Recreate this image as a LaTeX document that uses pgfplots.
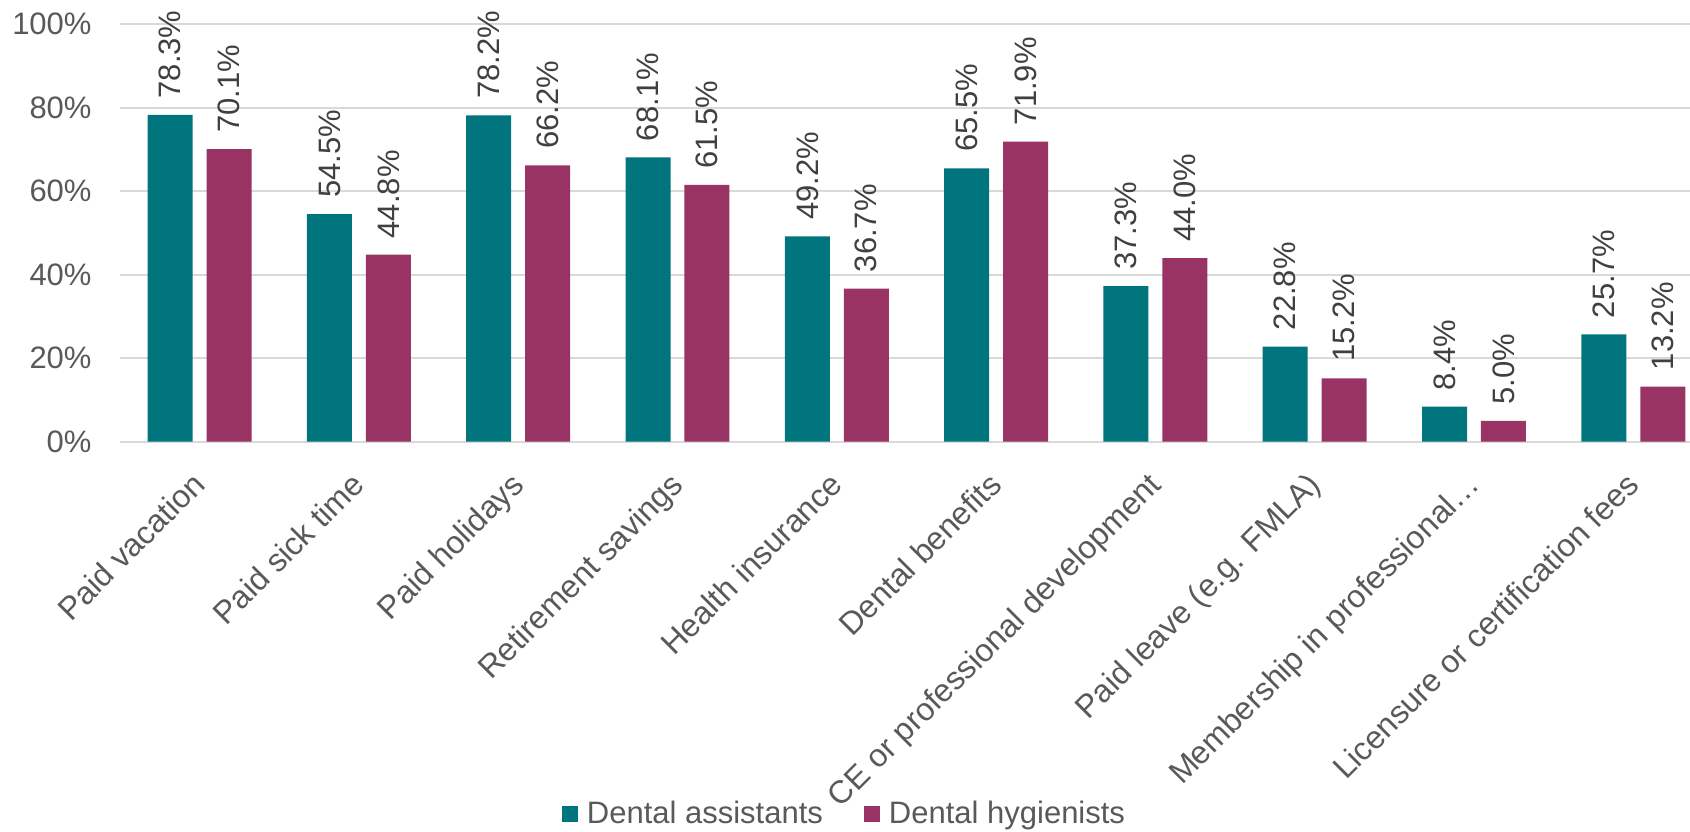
\documentclass[border=0pt]{standalone}
\usepackage{pgfplots}
\pgfplotsset{compat=1.18}
\usepackage{fontspec}
\setmainfont{Liberation Sans}
\definecolor{assist}{HTML}{00757D}
\definecolor{hyg}{HTML}{983363}
\definecolor{txt}{HTML}{595959}
\definecolor{lbl}{HTML}{404040}
\definecolor{gridc}{HTML}{D9D9D9}
\begin{document}
\begin{tikzpicture}
\begin{axis}[
    scale only axis,
    width=785pt, height=208.7pt,
    xmin=-0.5, xmax=9.356,
    ymin=0, ymax=100,
    ybar, bar width=0.2825,
    axis line style={draw=none},
    major tick length=0pt,
    xmajorgrids=false,
    ymajorgrids, grid style={draw=gridc, line width=0.8pt},
    ytick={0,20,40,60,80,100},
    yticklabels={0\%,20\%,40\%,60\%,80\%,100\%},
    yticklabel style={font=\fontsize{15.5}{18}\selectfont, text=txt, inner sep=0pt, xshift=-14pt},
    xtick={0,...,9},
    xticklabels={Paid vacation, Paid sick time, Paid holidays, Retirement savings,
      Health insurance, Dental benefits, CE or professional development,
      Paid leave (e.g. FMLA), Membership in professional…, Licensure or certification fees},
    xticklabel style={font=\fontsize{16}{18}\selectfont, text=txt, inner sep=0pt,
      yshift=-14pt, xshift=-4.5pt, rotate=45, anchor=north east},
    point meta=explicit symbolic,
    nodes near coords,
    every node near coord/.append style={font=\fontsize{15.5}{18}\selectfont, text=lbl,
      rotate=90, anchor=west, inner xsep=8pt, inner ysep=0pt},
    legend columns=2,
    legend style={draw=none, fill=none, at={(0.4637,-0.892)}, anchor=center,
      font=\fontsize{15.5}{18}\selectfont, text=txt,
      /tikz/every odd column/.append style={column sep=0pt},
      /tikz/every even column/.append style={column sep=16pt},
      nodes={inner xsep=4.5pt}},
    legend image code/.code={\fill[#1] (0pt,-4pt) rectangle (8pt,4pt);},
    clip=false,
]
\addplot[fill=assist, draw=none, bar shift=-0.185] coordinates {
  (0,78.3) [78.3\%] (1,54.5) [54.5\%] (2,78.2) [78.2\%] (3,68.1) [68.1\%] (4,49.2) [49.2\%]
  (5,65.5) [65.5\%] (6,37.3) [37.3\%] (7,22.8) [22.8\%] (8,8.4) [8.4\%] (9,25.7) [25.7\%]};
\addplot[fill=hyg, draw=none, bar shift=0.185] coordinates {
  (0,70.1) [70.1\%] (1,44.8) [44.8\%] (2,66.2) [66.2\%] (3,61.5) [61.5\%] (4,36.7) [36.7\%]
  (5,71.9) [71.9\%] (6,44.0) [44.0\%] (7,15.2) [15.2\%] (8,5.0) [5.0\%] (9,13.2) [13.2\%]};
\legend{Dental assistants, Dental hygienists}
\coordinate (bbsw) at (axis description cs:-0.0764,-0.9327);
\coordinate (bbne) at (axis description cs:1,1.0582);
\end{axis}
\pgfresetboundingbox
\path[use as bounding box] (bbsw) rectangle (bbne);
\end{tikzpicture}
\end{document}
